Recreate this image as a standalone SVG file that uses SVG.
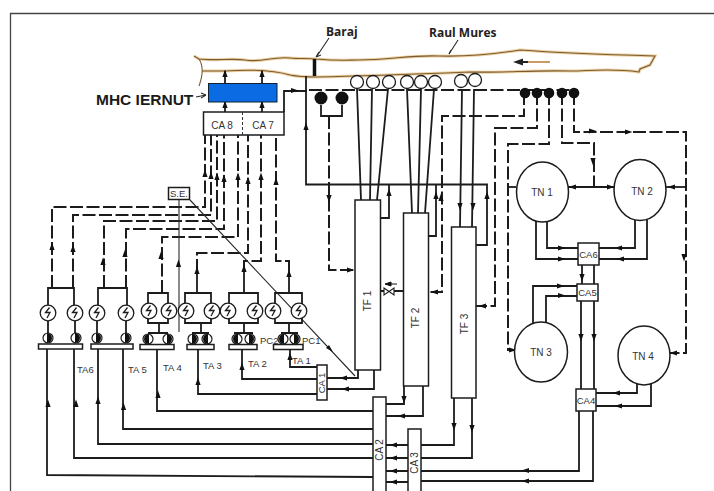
<svg xmlns="http://www.w3.org/2000/svg" xmlns:xlink="http://www.w3.org/1999/xlink" width="714" height="491" viewBox="0 0 714 491">
<style>
.s{fill:none;stroke:#1c1c1c;stroke-width:1.8;stroke-linejoin:miter}
.d{fill:none;stroke:#1c1c1c;stroke-width:2;stroke-dasharray:13 3.5}
.t{fill:none;stroke:#2a2a2a;stroke-width:1.100}
.b{fill:#fff;stroke:#1c1c1c;stroke-width:1.500}
.g{fill:none;stroke:#1c1c1c;stroke-width:1.300}
.rh{fill:none;stroke:#eccf9f;stroke-width:3}
.rl{fill:none;stroke:#7a5c34;stroke-width:1.100}
text{font-family:"Liberation Sans",Arial,sans-serif;fill:#333;font-size:9.5px}
.m{text-anchor:middle}
.h{font-family:"Open Sans","Liberation Sans",sans-serif;font-weight:700;font-size:12px;fill:#222}
.k{font-weight:700;font-size:15.500px;fill:#1a1a1a}
</style>
<defs>
<path id="au" d="M0-5.500L2.600 2H-2.600Z" fill="#111"/>
<path id="ad" d="M0 5.500L2.600-2H-2.600Z" fill="#111"/>
<path id="al" d="M-5.500 0L2-2.600V2.600Z" fill="#111"/>
<path id="ar" d="M5.500 0L-2-2.600V2.600Z" fill="#111"/>
<g id="gen"><circle r="7.800" fill="#fff" stroke="#1c1c1c" stroke-width="1.300"/><path d="M1.500-5.500L-2.500-0.500L2-0.500L-1 5" class="g"/></g>
<g id="pr"><circle r="5" fill="#fff" stroke="#1c1c1c" stroke-width="1.200"/><path d="M-1-5A5 5 0 0 1 -1 5Z" fill="#111"/></g>
<g id="pl"><circle r="5" fill="#fff" stroke="#1c1c1c" stroke-width="1.200"/><path d="M1-5A5 5 0 0 0 1 5Z" fill="#111"/></g>
<circle id="wc" r="6.500" fill="#fff" stroke="#1c1c1c" stroke-width="1.300"/>
<circle id="bc" r="5.300" fill="#111"/>
</defs>

<rect width="714" height="491" fill="#fff"/>
<path d="M10.500 491V13.500H714" fill="none" stroke="#444" stroke-width="1.300"/>

<g id="river">
<path class="rh" d="M194 56L199 59C215 61 232 58 245 60C262 63 272 56 290 58C300 59 308 58 316 59C340 61 348 60 358 60C390 60 410 55 438 56C470 57 495 54 520 50C560 53 620 55 655 56L650 65L640 69L639 72C610 68 590 71 570 71C530 70 505 73 470 72C420 74 370 76 316 77C300 77 295 76 290 75C270 69 240 70 225 71L202 71"/>
<path class="rl" d="M194 56L199 59C215 61 232 58 245 60C262 63 272 56 290 58C300 59 308 58 316 59C340 61 348 60 358 60C390 60 410 55 438 56C470 57 495 54 520 50C560 53 620 55 655 56L650 65L640 69L639 72C610 68 590 71 570 71C530 70 505 73 470 72C420 74 370 76 316 77C300 77 295 76 290 75C270 69 240 70 225 71L202 71"/>
<path class="rl" d="M199 59C203 65 203 75 199 86"/>
<path d="M520 62H550" stroke="#c89a66" stroke-width="2"/>
<path d="M513 62L523 58.500V65.500Z" fill="#222"/>
<path d="M520 62H528" stroke="#222" stroke-width="2"/>
</g>

<g id="connectors">
<path class="t" d="M329 38L317 56M458 40L449 54M196 97L206 95"/>
<path class="t" d="M316 57L319 52M316 57L321 55M449 54L451 50M206 95L201 93M206 95L201 98"/>
<path d="M314.500 59V76" stroke="#111" stroke-width="3.500"/>
<path class="s" d="M225 71V84M262 71V84M225 102V112M262 102V112"/>
<use href="#au" x="225" y="75"/><use href="#au" x="262" y="75"/><use href="#au" x="225" y="106"/><use href="#au" x="262" y="106"/>
<path class="s" d="M284 112V91H307"/><use href="#ar" x="293" y="90.500"/>
<path class="s" d="M306 76V184.500H487V245H476M389 184.500V218H380M436 184.500V236H429"/>
<use href="#au" x="306" y="128"/><use href="#au" x="389" y="194"/><use href="#au" x="436" y="197"/><use href="#au" x="487" y="197"/>
<path class="d" d="M309 90H578"/>
<path class="s" d="M321 105V116H342V105"/>
<path class="d" d="M329 116V270H355"/><use href="#ad" x="329" y="197"/><use href="#ar" x="349" y="270"/>
<path class="s" d="M357 89L361 200M372 89L370 200M388 89L377 200M407 89L412 213M421 89L418 213M434 89L425 213M462 89L460 227M474 89L472 227"/>
<use href="#ad" x="460" y="205"/><use href="#ad" x="473" y="205"/>
<path class="d" d="M524 92V116H442V292H428"/><use href="#au" x="441" y="199"/><use href="#al" x="436" y="292"/>
<path class="d" d="M537 92V128H495V306H476"/><use href="#al" x="484" y="306"/>
<path class="d" d="M549 92V144H508V350H515"/><use href="#ar" x="511" y="350"/>
<path class="d" d="M562 92V143H594V187"/><use href="#ad" x="593" y="160"/>
<path class="s" d="M568 187H615"/><use href="#al" x="574" y="187"/><use href="#ar" x="609" y="187"/>
<path class="s" d="M509 187H516"/>
<path class="d" d="M574 92V132H686V353H670"/><use href="#ar" x="627" y="132"/><use href="#ar" x="591" y="131"/><use href="#ad" x="684" y="256"/><use href="#al" x="675" y="353"/>
<path class="s" d="M686 187H666"/><use href="#al" x="673" y="187"/>
<path class="s" d="M536 220V259H578M547 220V248H578M635 218V248H599M647 218V259H599M582 265V284M594 265V284M533 323V286H577M546 323V296H577M581 301V389M594 301V389M637 384V393H596M651 384V406H596M579 411V471H421M593 411V481H421"/>
<use href="#ar" x="560" y="248"/><use href="#ar" x="560" y="259"/><use href="#al" x="620" y="248"/><use href="#al" x="622" y="259"/><use href="#ad" x="582" y="276"/><use href="#ar" x="559" y="286"/><use href="#ar" x="560" y="295.500"/><use href="#ad" x="581" y="336"/><use href="#ad" x="594" y="336"/><use href="#al" x="618" y="393"/><use href="#al" x="620" y="406"/><use href="#al" x="527" y="470.500"/><use href="#al" x="527" y="481"/>
<path class="s" d="M380 291H384M394 291H403" stroke-width="1.200"/>
<path d="M384 288L394 295V288L384 295Z" fill="#fff" stroke="#1c1c1c" stroke-width="1.100"/>
<path d="M385 284L391 282V286ZM391 284H397" fill="#111" stroke="#111" stroke-width="1"/>
<path class="s" d="M358 370V378H327M374 370V389H327M404 386V404H386M423 386V416H386M454 398V445H421M472 398V458H421"/>
<use href="#al" x="345" y="378"/><use href="#al" x="347" y="389"/><use href="#ad" x="404" y="398"/><use href="#al" x="403" y="416"/><use href="#ad" x="454" y="425"/><use href="#ad" x="472" y="427"/>
<path class="s" d="M386 445H408M386 458H408M386 471H408M386 482H408"/>
<use href="#al" x="395" y="445"/><use href="#al" x="395" y="458"/><use href="#al" x="395" y="471"/><use href="#al" x="395" y="482"/>
<path class="s" d="M317 367H290V350M317 379H242V350M317 394H198V350"/>
<use href="#au" x="290" y="358"/><use href="#au" x="242" y="368"/><use href="#au" x="198" y="383"/>
<path class="s" d="M373 411H157V350M373 429H123V349M373 444H98V349M373 458H74V349M373 477L47 475V349"/>
<use href="#au" x="158" y="396"/><use href="#au" x="123.500" y="408"/><use href="#au" x="98" y="402"/><use href="#au" x="76" y="405"/><use href="#au" x="48" y="405"/>
<path class="d" d="M52 288V207H205V135M73 288V215H211V135M104 288V221H217V135M126 288V229H224V135M162 293V237H238V135M197 272V253H248V135M244 270V261H261V135M289 270V261H276V135"/>
<path class="s" d="M197 293V270M244 293V268M289 293V268"/>
<use href="#au" x="52" y="248"/><use href="#au" x="73" y="250"/><use href="#au" x="103" y="263"/><use href="#au" x="125" y="255"/><use href="#au" x="161" y="257"/><use href="#au" x="197" y="272"/><use href="#au" x="244" y="270"/><use href="#au" x="289" y="275"/>
<use href="#au" x="205" y="175"/><use href="#au" x="211" y="177"/><use href="#au" x="217" y="178"/><use href="#au" x="224" y="180"/><use href="#au" x="238" y="178"/><use href="#au" x="248" y="182"/><use href="#au" x="261" y="178"/><use href="#au" x="276" y="183"/>
</g>

<g id="white-pumps"><use href="#wc" x="357" y="82"/><use href="#wc" x="373" y="82"/><use href="#wc" x="389" y="82"/><use href="#wc" x="407" y="82"/><use href="#wc" x="421" y="82"/><use href="#wc" x="435" y="82"/><use href="#wc" x="461" y="81"/><use href="#wc" x="475" y="80"/></g>
<g id="black-pumps"><use href="#bc" x="525" y="93"/><use href="#bc" x="537" y="93"/><use href="#bc" x="549" y="93"/><use href="#bc" x="562" y="93"/><use href="#bc" x="574" y="93"/><circle cx="321" cy="98" r="6.500" fill="#111"/><circle cx="342" cy="98" r="6.500" fill="#111"/></g>

<g id="mhc"><rect x="208.500" y="83.500" width="68.500" height="18.500" fill="#0a6be2" stroke="#123" stroke-width="1"/><text class="k" x="96" y="105">MHC IERNUT</text></g>
<g id="ca78"><rect class="b" x="203.500" y="112" width="80.500" height="23"/><path d="M242.500 112V135" stroke="#333" stroke-dasharray="3 2"/><text x="222" y="129" class="m" style="font-size:10px">CA 8</text><text x="263" y="129" class="m" style="font-size:10px">CA 7</text></g>
<g id="se"><rect class="b" x="168.500" y="187.500" width="21" height="12"/><text x="179" y="197" class="m">S.E.</text></g>
<g id="se-lines"><path class="t" d="M179 200V332M190 200L355 376"/><use href="#au" x="178.500" y="265"/><path d="M333 352L326 348L329 345Z" fill="#111"/></g>

<g id="tf1"><rect class="b" x="355" y="200" width="25.500" height="170"/><text class="m" transform="translate(371 301) rotate(-90)" style="font-size:10px">TF 1</text></g>
<g id="tf2"><rect class="b" x="403.500" y="213" width="25" height="173"/><text class="m" transform="translate(419 318) rotate(-90)" style="font-size:10px">TF 2</text></g>
<g id="tf3"><rect class="b" x="451.500" y="227" width="24.500" height="171"/><text class="m" transform="translate(468 324) rotate(-90)" style="font-size:10px">TF 3</text></g>

<g id="tn1"><ellipse class="b" cx="542.500" cy="192" rx="26" ry="30"/><text class="m" x="542" y="196" style="font-size:10px">TN 1</text></g>
<g id="tn2"><ellipse class="b" cx="640" cy="190" rx="26" ry="30.500"/><text class="m" x="642" y="195" style="font-size:10px">TN 2</text></g>
<g id="tn3"><ellipse class="b" cx="541" cy="352" rx="26.500" ry="30"/><text class="m" x="541" y="356" style="font-size:10px">TN 3</text></g>
<g id="tn4"><ellipse class="b" cx="644" cy="355.500" rx="26" ry="29.500"/><text class="m" x="643" y="360" style="font-size:10px">TN 4</text></g>
<g id="ca6"><rect class="b" x="578" y="243" width="21" height="22"/><text class="m" x="588.500" y="258">CA6</text></g>
<g id="ca5"><rect class="b" x="577" y="284" width="21" height="17"/><text class="m" x="587.500" y="296">CA5</text></g>
<g id="ca4"><rect class="b" x="576" y="389" width="20" height="22"/><text class="m" x="586" y="404">CA4</text></g>
<g id="ca1"><rect class="b" x="317" y="365" width="10" height="35"/><text class="m" transform="translate(325 383) rotate(-90)">CA 1</text></g>
<g id="ca2"><rect class="b" x="373" y="397" width="13" height="95"/><text class="m" transform="translate(383 450) rotate(-90)" style="font-size:10px">CA 2</text></g>
<g id="ca3"><rect class="b" x="408" y="429" width="13" height="63"/><text class="m" transform="translate(418 463) rotate(-90)" style="font-size:10px">CA 3</text></g>

<g id="ta6"><path class="s" d="M48 305V288H74V305M48 321V333M75 321V333"/><use href="#gen" x="48" y="313"/><use href="#gen" x="75" y="313"/><use href="#pr" x="48" y="338"/><use href="#pr" x="76" y="338"/><rect class="b" x="38.500" y="344" width="44" height="5"/><text x="77" y="373">TA6</text></g>
<g id="ta5"><path class="s" d="M98 305V288H127V305M97 321V333M126 321V333"/><use href="#gen" x="97" y="313"/><use href="#gen" x="126" y="313"/><use href="#pr" x="97" y="338"/><use href="#pr" x="126" y="338"/><rect class="b" x="91" y="344" width="42" height="5"/><text x="128" y="373">TA 5</text></g>
<g id="ta4"><path class="s" d="M148 293H168V323H148ZM159 323V333M148 333H168"/><use href="#gen" x="149" y="311"/><use href="#gen" x="169" y="311"/><use href="#pl" x="148" y="339"/><use href="#pr" x="168" y="339"/><rect class="b" x="140" y="344.500" width="34" height="5"/><text x="163" y="371">TA 4</text></g>
<g id="ta3"><path class="s" d="M185 293H211V323H185ZM201 323V333M192 333H209"/><use href="#gen" x="186" y="311"/><use href="#gen" x="212" y="311"/><use href="#pr" x="193" y="339"/><use href="#pl" x="207" y="339"/><rect class="b" x="187" y="344.500" width="27" height="5"/><text x="203" y="369">TA 3</text></g>
<g id="ta2"><path class="s" d="M229 293H258V323H229ZM244 323V333M234 333H253"/><use href="#gen" x="228" y="311"/><use href="#gen" x="255" y="311"/><use href="#pl" x="237" y="339"/><use href="#pr" x="250" y="339"/><rect class="b" x="229" y="344.500" width="28" height="5"/><text x="248" y="367">TA 2</text></g>
<g id="ta1"><path class="s" d="M275 293H302V323H275ZM289 323V333M281 333H298"/><use href="#gen" x="273" y="311"/><use href="#gen" x="299" y="311"/><use href="#pl" x="283" y="339"/><use href="#pr" x="295" y="339"/><rect class="b" x="273.500" y="344.500" width="29.500" height="5"/><text x="292" y="364">TA 1</text><text x="260" y="344">PC2</text><text x="302" y="344">PC1</text></g>
<g id="labels"><text class="h" x="326" y="36">Baraj</text><text class="h" x="429" y="37">Raul Mures</text></g>
</svg>
